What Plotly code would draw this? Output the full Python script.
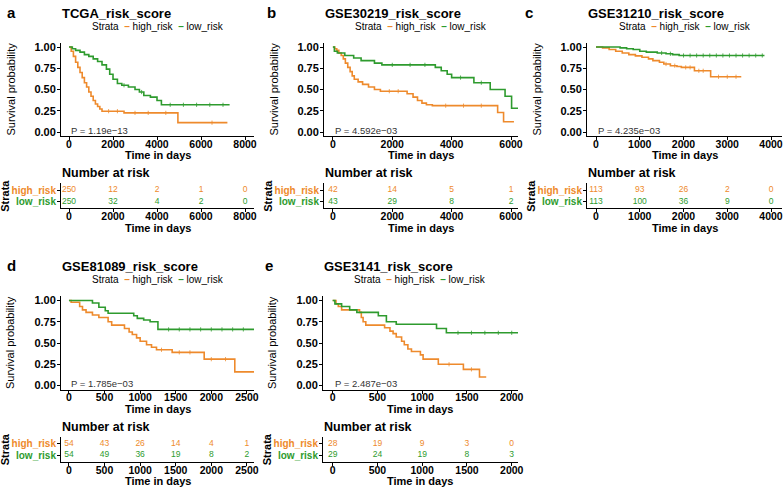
import plotly.graph_objects as go

W, H = 784, 488
ORANGE = "#EE8A2C"
GREEN = "#2E9B2E"
FONT = "Liberation Sans, Arial, sans-serif"

# ---------------- data ----------------
titles = ["TCGA_risk_score", "GSE30219_risk_score", "GSE31210_risk_score",
          "GSE81089_risk_score", "GSE3141_risk_score"]
letters = ["a", "b", "c", "d", "e"]
pvals = ["P = 1.19e\u221213", "P = 4.592e\u221203", "P = 4.235e\u221203",
         "P = 1.785e\u221203", "P = 2.487e\u221203"]

# Panel a (TCGA)
a_high_t = [0, 100, 200, 300, 400, 500, 600, 700, 800, 900, 1000, 1100, 1200, 1300, 1400, 1500, 2500, 4950, 7200]
a_high_s = [1.0, 0.95, 0.89, 0.82, 0.76, 0.70, 0.64, 0.58, 0.53, 0.47, 0.42, 0.37, 0.33, 0.30, 0.27, 0.245, 0.225, 0.11, 0.11]
a_low_t = [0, 150, 300, 500, 700, 900, 1100, 1300, 1500, 1700, 1850, 2000, 2200, 2400, 2700, 3000, 3200, 3400, 3700, 4000, 4200, 7300]
a_low_s = [1.0, 0.98, 0.96, 0.94, 0.91, 0.89, 0.86, 0.83, 0.79, 0.74, 0.68, 0.62, 0.57, 0.55, 0.53, 0.50, 0.47, 0.43, 0.41, 0.37, 0.32, 0.32]
a_high_cens = [1800, 2200, 3000, 3600, 4400, 6500]
a_low_cens = [2500, 3300, 4600, 5200, 5800, 6400, 7000]

# Panel b (GSE30219)
b_high_t = [0, 60, 130, 200, 280, 350, 420, 500, 580, 650, 720, 850, 1000, 1200, 1400, 1600, 2500, 2700, 2850, 3000, 3150, 3350, 5550, 5750, 6100]
b_high_s = [1.0, 0.98, 0.96, 0.93, 0.90, 0.86, 0.81, 0.76, 0.71, 0.66, 0.62, 0.59, 0.56, 0.53, 0.50, 0.48, 0.45, 0.41, 0.37, 0.34, 0.32, 0.31, 0.23, 0.12, 0.12]
b_low_t = [0, 50, 150, 400, 700, 950, 1400, 1650, 3450, 3650, 3850, 4000, 4750, 5300, 5800, 6020, 6250]
b_low_s = [1.0, 0.95, 0.93, 0.90, 0.87, 0.84, 0.81, 0.79, 0.76, 0.72, 0.68, 0.64, 0.58, 0.50, 0.42, 0.28, 0.28]
b_high_cens = [1900, 2200, 3800, 4400, 5000]
b_low_cens = [2000, 2600, 3100, 4300, 5000]

# Panel c (GSE31210)
c_high_t = [0, 150, 300, 450, 600, 750, 900, 1050, 1200, 1300, 1450, 1550, 1700, 1850, 1950, 2250, 2620, 3320]
c_high_s = [1.0, 0.99, 0.97, 0.95, 0.93, 0.91, 0.895, 0.88, 0.86, 0.84, 0.82, 0.80, 0.78, 0.77, 0.76, 0.72, 0.65, 0.65]
c_low_t = [0, 550, 700, 850, 1000, 1150, 1400, 1600, 1750, 1900, 3850]
c_low_s = [1.0, 0.99, 0.98, 0.97, 0.95, 0.94, 0.93, 0.92, 0.91, 0.90, 0.90]
c_high_cens = [1600, 1800, 2050, 2150, 2350, 2450, 2800, 3000, 3200]
c_low_cens = [1500, 1700, 2000, 2150, 2300, 2450, 2600, 2750, 2900, 3050, 3200, 3350, 3500, 3650, 3800]

# Panel d (GSE81089)
d_high_t = [0, 30, 150, 190, 240, 330, 420, 550, 600, 780, 845, 890, 950, 1000, 1090, 1160, 1230, 1450, 1900, 2330, 2600]
d_high_s = [1.0, 0.98, 0.93, 0.89, 0.86, 0.83, 0.80, 0.75, 0.71, 0.67, 0.63, 0.60, 0.56, 0.52, 0.48, 0.45, 0.42, 0.39, 0.31, 0.16, 0.16]
d_low_t = [0, 330, 420, 510, 550, 910, 960, 1050, 1140, 1250, 2600]
d_low_s = [1.0, 0.97, 0.92, 0.88, 0.85, 0.82, 0.79, 0.77, 0.75, 0.66, 0.66]
d_high_cens = [1300, 1550, 1700, 2000, 2200]
d_low_cens = [1400, 1550, 1700, 1850, 2000, 2150, 2300, 2450]

# Panel e (GSE3141)
e_high_t = [0, 37, 63, 100, 300, 320, 340, 370, 580, 640, 675, 710, 770, 800, 840, 880, 980, 1010, 1180, 1460, 1640, 1715]
e_high_s = [1.0, 0.96, 0.93, 0.89, 0.86, 0.80, 0.75, 0.71, 0.68, 0.64, 0.61, 0.57, 0.52, 0.48, 0.43, 0.40, 0.36, 0.31, 0.25, 0.19, 0.10, 0.10]
e_low_t = [0, 25, 100, 190, 270, 510, 600, 710, 1160, 1270, 2070]
e_low_s = [1.0, 0.96, 0.93, 0.89, 0.86, 0.82, 0.75, 0.72, 0.67, 0.62, 0.62]
e_high_cens = [1300, 1550]
e_low_cens = [1400, 1550, 1700, 1850, 2000]

# Number at risk tables
a_times = [0, 2000, 4000, 6000, 8000]
a_risk_high = [250, 12, 2, 1, 0]
a_risk_low = [250, 32, 4, 2, 0]
b_times = [0, 2000, 4000, 6000]
b_risk_high = [42, 14, 5, 1]
b_risk_low = [43, 29, 8, 2]
c_times = [0, 1000, 2000, 3000, 4000]
c_risk_high = [113, 93, 26, 2, 0]
c_risk_low = [113, 100, 36, 9, 0]
d_times = [0, 500, 1000, 1500, 2000, 2500]
d_risk_high = [54, 43, 26, 14, 4, 1]
d_risk_low = [54, 49, 36, 19, 8, 2]
e_times = [0, 500, 1000, 1500, 2000]
e_risk_high = [28, 19, 9, 3, 0]
e_risk_low = [29, 24, 19, 8, 3]

curves = [
    (a_high_t, a_high_s, a_low_t, a_low_s, a_high_cens, a_low_cens),
    (b_high_t, b_high_s, b_low_t, b_low_s, b_high_cens, b_low_cens),
    (c_high_t, c_high_s, c_low_t, c_low_s, c_high_cens, c_low_cens),
    (d_high_t, d_high_s, d_low_t, d_low_s, d_high_cens, d_low_cens),
    (e_high_t, e_high_s, e_low_t, e_low_s, e_high_cens, e_low_cens),
]
tables = [
    (a_times, a_risk_high, a_risk_low),
    (b_times, b_risk_high, b_risk_low),
    (c_times, c_risk_high, c_risk_low),
    (d_times, d_risk_high, d_risk_low),
    (e_times, e_risk_high, e_risk_low),
]


def step_value(ts, ss, t):
    v = ss[0]
    for tt, s in zip(ts, ss):
        if tt <= t:
            v = s
    return v


# ---------------- layout (pixels) ----------------
panels = [
    (61, 254, [-364, 8409], 0),
    (324, 518, [-300, 6236], 0),
    (587, 782, [-206, 4251], 0),
    (61, 254, [-112, 2600], 1),
    (323, 518, [-108, 2070], 1),
]
ROW_OFF = [0, 253.5]


def fx(p):
    return p / W


def fy(p):
    return 1 - p / H


fig = go.Figure()
layout = dict(
    width=W, height=H,
    margin=dict(l=0, r=0, t=0, b=0, autoexpand=False),
    paper_bgcolor="white", plot_bgcolor="white",
    showlegend=False,
    font=dict(family=FONT, color="black"),
)
annotations = []

xtickfont = dict(family=FONT, size=10.5, color="black", weight="bold")
ytickfont = dict(family=FONT, size=11, color="black", weight="bold")

for i, (L, R, xr, row) in enumerate(panels):
    off = ROW_OFF[row]
    y1, y0 = 47 + off, 132 + off
    unit = y0 - y1
    top, bot = y1 - 0.05 * unit, y0 + 0.05 * unit
    rh, rl = 190 + off, 201.5 + off
    sp = rl - rh
    ttop, tbot = rh - 0.6 * sp, rl + 0.6 * sp

    km = 2 * i + 1
    tb = 2 * i + 2
    ht, hs, lt, ls, hc, lc = curves[i]
    times, rhigh, rlow = tables[i]

    for ts, ss, cs, col in ((ht, hs, hc, ORANGE), (lt, ls, lc, GREEN)):
        fig.add_trace(go.Scatter(x=ts, y=ss, mode="lines", line=dict(color=col, width=1.6, shape="hv"),
                                 xaxis=f"x{km}", yaxis=f"y{km}"))
        fig.add_trace(go.Scatter(x=cs, y=[step_value(ts, ss, c) for c in cs], mode="markers",
                                 marker=dict(symbol="line-ns", size=3, line=dict(color=col, width=0.8)),
                                 xaxis=f"x{km}", yaxis=f"y{km}"))
    fig.add_trace(go.Scatter(x=times, y=[2] * len(times), mode="text", text=[str(v) for v in rhigh],
                             textfont=dict(family=FONT, size=8.5, color=ORANGE),
                             xaxis=f"x{tb}", yaxis=f"y{tb}"))
    fig.add_trace(go.Scatter(x=times, y=[1] * len(times), mode="text", text=[str(v) for v in rlow],
                             textfont=dict(family=FONT, size=8.5, color=GREEN),
                             xaxis=f"x{tb}", yaxis=f"y{tb}"))

    common_x = dict(range=xr, tickvals=times, ticktext=[str(t) for t in times],
                    showline=True, linecolor="black", linewidth=1, ticks="outside",
                    ticklen=3, tickcolor="black", tickwidth=1, showgrid=False, zeroline=False,
                    tickfont=xtickfont, domain=[fx(L), fx(R)], ticklabelstandoff=-5,
                    ticklabeloverflow="allow")
    layout[f"xaxis{km}"] = dict(common_x, anchor=f"y{km}")
    layout[f"xaxis{tb}"] = dict(common_x, anchor=f"y{tb}")
    layout[f"yaxis{km}"] = dict(range=[-0.05, 1.05], tickvals=[0, 0.25, 0.5, 0.75, 1.0],
                                ticktext=["0.00", "0.25", "0.50", "0.75", "1.00"],
                                showline=True, linecolor="black", linewidth=1, ticks="outside",
                                ticklen=3, tickcolor="black", showgrid=False, zeroline=False,
                                tickfont=ytickfont, domain=[fy(bot), fy(top)], anchor=f"x{km}",
                                ticklabelstandoff=-1)
    layout[f"yaxis{tb}"] = dict(range=[0.4, 2.6], tickvals=[2, 1],
                                ticktext=[f"<span style='color:{ORANGE}'>high_risk</span>",
                                          f"<span style='color:{GREEN}'>low_risk</span>"],
                                showline=True, linecolor="black", linewidth=1, ticks="outside",
                                ticklen=3, tickcolor="black", showgrid=False, zeroline=False,
                                tickfont=dict(family=FONT, size=10, weight="bold"),
                                domain=[fy(tbot), fy(ttop)], anchor=f"x{tb}", ticklabelstandoff=-1)

    letter_x = [5, 265, 523, 5, 263][i]
    annotations.append(dict(text=f"<b>{letters[i]}</b>", x=fx(letter_x), y=fy(12 + off), xref="paper", yref="paper",
                            xanchor="left", yanchor="middle", showarrow=False,
                            font=dict(family=FONT, size=15, color="black")))
    annotations.append(dict(text=f"<b>{titles[i]}</b>", x=fx(L - 1), y=fy(13 + off), xref="paper", yref="paper",
                            xanchor="left", yanchor="middle", showarrow=False,
                            font=dict(family=FONT, size=13, color="black")))
    leg = (f"Strata  <span style='color:{ORANGE}'><b>\u2013</b></span> high_risk  "
           f"<span style='color:{GREEN}'><b>\u2013</b></span> low_risk")
    annotations.append(dict(text=leg, x=fx((L + R) / 2), y=fy(26 + off), xref="paper", yref="paper",
                            xanchor="center", yanchor="middle", showarrow=False,
                            font=dict(family=FONT, size=10, color="black")))
    annotations.append(dict(text=pvals[i], x=0, y=0.02, xref=f"x{km}", yref=f"y{km}",
                            xanchor="left", yanchor="middle", showarrow=False,
                            font=dict(family=FONT, size=9.5, color="#333333")))
    annotations.append(dict(text="Survival probability", x=fx(L - 51), y=fy((top + bot) / 2), xref="paper",
                            yref="paper", xanchor="center", yanchor="middle", textangle=-90, showarrow=False,
                            font=dict(family=FONT, size=11, color="black")))
    for yy in (155.5 + off, 227.5 + off):
        annotations.append(dict(text="<b>Time in days</b>", x=fx((L + R) / 2), y=fy(yy), xref="paper",
                                yref="paper", xanchor="center", yanchor="middle", showarrow=False,
                                font=dict(family=FONT, size=11, color="black")))
    annotations.append(dict(text="Number at risk", x=fx(L - 1), y=fy(173 + off), xref="paper", yref="paper",
                            xanchor="left", yanchor="middle", showarrow=False,
                            font=dict(family=FONT, size=12.5, color="black", weight=600)))
    annotations.append(dict(text="<b>Strata</b>", x=fx(L - 56), y=fy((ttop + tbot) / 2), xref="paper",
                            yref="paper", xanchor="center", yanchor="middle", textangle=-90, showarrow=False,
                            font=dict(family=FONT, size=11, color="black")))

layout["annotations"] = annotations
fig.update_layout(**layout)
fig.write_html("out.html", config={"displayModeBar": False},
               post_script="document.body.style.margin='0px';document.body.style.overflow='hidden';")
